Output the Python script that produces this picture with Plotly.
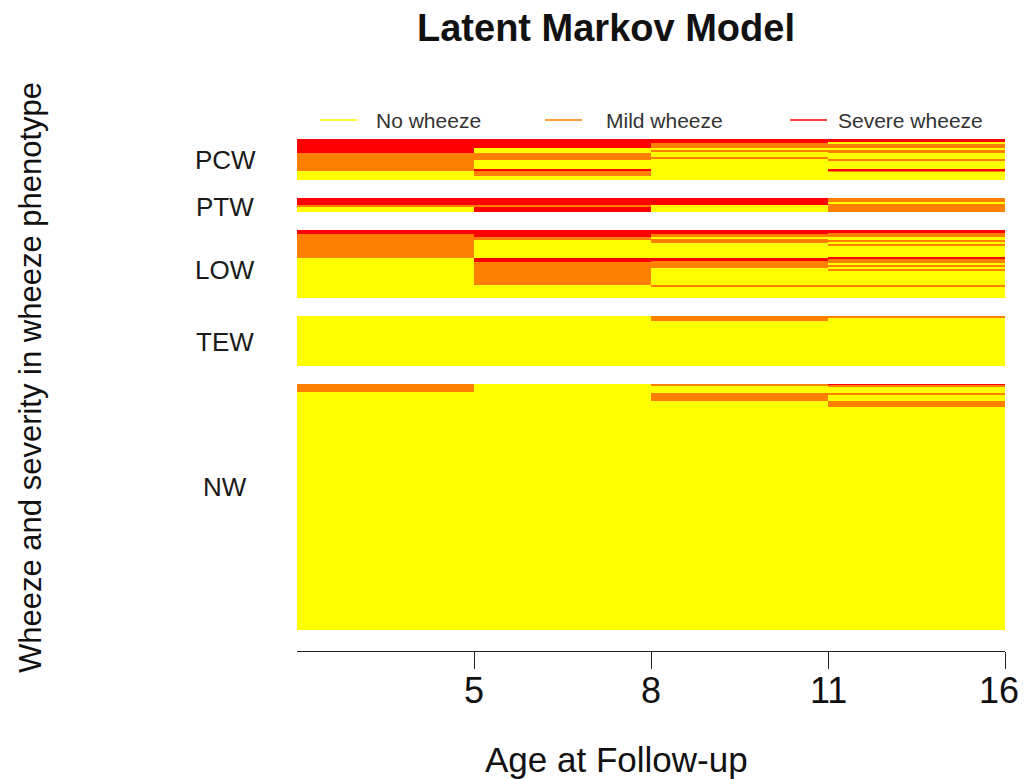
import plotly.graph_objects as go

# ---- data -------------------------------------------------------------
ages = ["5", "8", "11", "16"]                     # follow-up ages (period ends)
groups = ["PCW", "PTW", "LOW", "TEW", "NW"]       # wheeze phenotypes, top to bottom
group_share = [9.8, 3.4, 16.3, 11.9, 58.6]        # % of children in each phenotype
states = ["No wheeze", "Mild wheeze", "Severe wheeze"]
state_colors = ["#FFFF00", "#FF8000", "#FF0000"]

N, M, S = 0, 1, 2  # state codes

# Per phenotype: for each of the 4 periods, the stacked (state, share) runs, top to bottom
pcw = [
    [(S, .35), (M, .43), (N, .22)],
    [(S, .21), (N, .14), (M, .16), (N, .23), (S, .03), (M, .13), (N, .10)],
    [(S, .10), (M, .13), (N, .05), (M, .03), (N, .13), (M, .04), (N, .52)],
    [(S, .083), (N, .042), (M, .083), (N, .058), (M, .083), (N, .133),
     (M, .058), (N, .192), (S, .03), (M, .03), (N, .208)],
]
ptw = [
    [(S, .47), (M, .13), (N, .40)],
    [(S, .47), (M, .18), (S, .35)],
    [(S, .47), (N, .53)],
    [(M, .30), (N, .10), (M, .60)],
]
low = [
    [(S, .058), (M, .357), (N, .585)],
    [(S, .098), (M, .048), (N, .269), (S, .048), (M, .341), (N, .196)],
    [(S, .059), (M, .039), (N, .039), (M, .049), (N, .229), (S, .039),
     (M, .107), (N, .244), (M, .024), (N, .171)],
    [(S, .049), (M, .049), (N, .059), (M, .024), (N, .029), (M, .024),
     (N, .171), (S, .024), (M, .059), (N, .034), (M, .024), (N, .029),
     (M, .020), (N, .210), (M, .024), (N, .171)],
]
tew = [
    [(N, 1.0)],
    [(N, 1.0)],
    [(M, .09), (N, .91)],
    [(M, .04), (N, .96)],
]
nw = [
    [(M, .033), (N, .967)],
    [(N, 1.0)],
    [(M, .008), (N, .028), (M, .034), (N, .930)],
    [(S, .004), (M, .007), (N, .026), (M, .007), (N, .027), (M, .024), (N, .905)],
]
group_runs = [pcw, ptw, low, tew, nw]

# ---- layout constants (pixels) -----------------------------------------
W, H = 1024, 779
L, R, T, B = 297, 19, 139, 128
PW, PH = W - L - R, H - T - B
GAP = 4.24              # blank space between phenotype blocks (y units)
BOTTOM_PAD = 5.0        # space between last block and the x axis (y units)
label_anchor = [0.50, 0.64, 0.59, 0.52, 0.42]  # where each name sits inside its block

FONT = "Liberation Sans, Arial, sans-serif"


def px_x(px):
    return (px - L) / PW


def px_y(py):
    return (T + PH - py) / PH


# ---- build stacked runs --------------------------------------------------
xs = {k: [] for k in range(3)}
bases = {k: [] for k in range(3)}
heights = {k: [] for k in range(3)}

block_tops = []
top = 0.0
for share, runs in zip(group_share, group_runs):
    block_tops.append(top)
    for col, col_runs in enumerate(runs):
        y = top
        for state, frac in col_runs:
            h = frac * share
            xs[state].append(col + 0.5)
            bases[state].append(y)
            heights[state].append(h)
            y += h
    top += share + GAP
y_total = top - GAP

fig = go.Figure()
for k in range(3):
    fig.add_trace(go.Bar(
        x=xs[k], y=heights[k], base=bases[k], width=1.0,
        marker=dict(color=state_colors[k], line=dict(width=0)),
        name=states[k], showlegend=False, hoverinfo="skip",
    ))

annotations = []
# phenotype names
for name, t0, share, a in zip(groups, block_tops, group_share, label_anchor):
    annotations.append(dict(
        x=px_x(225), xref="paper", y=t0 + a * share, yref="y",
        text=name, showarrow=False, xanchor="center", yanchor="middle",
        font=dict(family=FONT, size=26, color="#1a1a1a"),
    ))

# age labels under the ticks; the last one is kept inside the figure edge
for i, age in enumerate(ages, start=1):
    last = i == len(ages)
    annotations.append(dict(
        x=px_x(W - 3) if last else i, xref="paper" if last else "x",
        y=px_y(690), yref="paper",
        text=age, showarrow=False, xanchor="right" if last else "center",
        yanchor="middle",
        font=dict(family=FONT, size=36, color="#111111"),
    ))

# legend: short coloured line + label
shapes = []
legend_keys = [(320, 374), (545, 604), (790, 836)]
for (kx, tx), lab, col in zip(legend_keys, states, state_colors):
    shapes.append(dict(type="line", xref="paper", yref="paper",
                       x0=px_x(kx), x1=px_x(kx + 37), y0=px_y(120), y1=px_y(120),
                       line=dict(color=col, width=1.5)))
    annotations.append(dict(
        x=px_x(tx), xref="paper", y=px_y(120), yref="paper",
        text=lab, showarrow=False, xanchor="left", yanchor="middle",
        font=dict(family=FONT, size=21, color="#333333"),
    ))

# titles
annotations.append(dict(
    x=px_x(606), xref="paper", y=px_y(28), yref="paper",
    text="<b>Latent Markov Model</b>", showarrow=False,
    xanchor="center", yanchor="middle",
    font=dict(family=FONT, size=38, color="#111111"),
))
annotations.append(dict(
    x=px_x(616), xref="paper", y=px_y(759), yref="paper",
    text="Age at Follow-up", showarrow=False,
    xanchor="center", yanchor="middle",
    font=dict(family=FONT, size=35, color="#111111"),
))
annotations.append(dict(
    x=px_x(30), xref="paper", y=px_y(378), yref="paper",
    text="Wheeze and severity in wheeze phenotype", showarrow=False,
    textangle=-90, xanchor="center", yanchor="middle",
    font=dict(family=FONT, size=31, color="#111111"),
))

fig.update_layout(
    width=W, height=H,
    margin=dict(l=L, r=R, t=T, b=B, pad=0, autoexpand=False),
    paper_bgcolor="white", plot_bgcolor="white",
    barmode="overlay", bargap=0,
    showlegend=False,
    annotations=annotations, shapes=shapes,
    xaxis=dict(
        range=[0, 4], tickvals=[1, 2, 3, 4], showticklabels=False,
        ticks="outside", ticklen=17, tickwidth=1.3, tickcolor="#222222",
        showline=True, linecolor="#222222", linewidth=1.3,
        showgrid=False, zeroline=False, fixedrange=True, automargin=False,
    ),
    yaxis=dict(
        range=[y_total + BOTTOM_PAD, 0],
        showticklabels=False, ticks="", showline=False, automargin=False,
        showgrid=False, zeroline=False, fixedrange=True,
    ),
)

fig.write_html("out.html")
